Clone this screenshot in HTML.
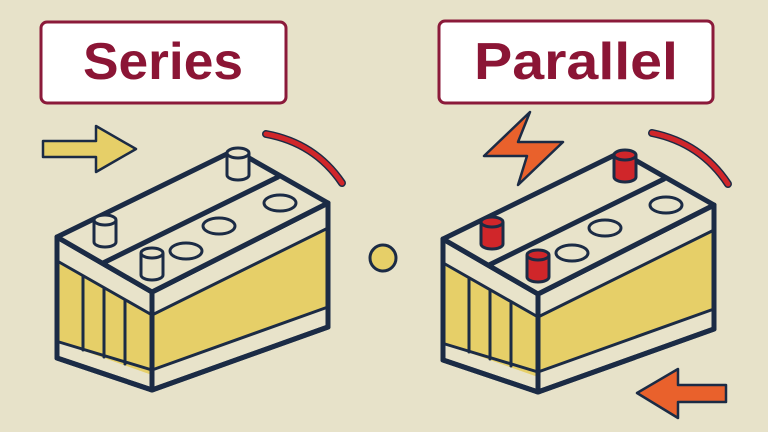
<!DOCTYPE html>
<html><head><meta charset="utf-8"><style>
html,body{margin:0;padding:0;background:#e7e2c9;}
svg{display:block}
</style></head><body>
<svg width="768" height="432" viewBox="0 0 768 432" xmlns="http://www.w3.org/2000/svg">
<defs>
<g id="bat" stroke="#1b2b45" stroke-width="5" stroke-linejoin="round" stroke-linecap="round">
  <!-- left face -->
  <polygon points="57,237 152,292 152,390 57,358" fill="#e8e3ca"/>
  <polygon points="59,262 152,315 152,375 59,342" fill="#e6cf68" stroke="none"/>
  <!-- right face -->
  <polygon points="152,292 328,203 328,327 152,390" fill="#e8e3ca"/>
  <polygon points="152,315 328,228 328,307 152,370" fill="#e6cf68" stroke="none"/>
  <polyline points="59,262 152,315 328,228" fill="none" stroke-width="3"/>
  <polyline points="59,342 152,370 328,307" fill="none" stroke-width="3"/>
  <line x1="83" y1="276" x2="83" y2="350" stroke-width="3"/>
  <line x1="104" y1="288" x2="104" y2="357" stroke-width="3"/>
  <line x1="125" y1="300" x2="125" y2="364" stroke-width="3"/>
  <polygon points="57,237 152,292 152,390 57,358" fill="none"/>
  <polygon points="152,292 328,203 328,327 152,390" fill="none"/>
  <!-- top face -->
  <polygon points="57,237 152,292 328,203 235,150" fill="#e8e3ca"/>
  <line x1="103" y1="263" x2="278" y2="177"/>
  <ellipse cx="186" cy="251" rx="16" ry="8" fill="none" stroke-width="3"/>
  <ellipse cx="219" cy="226" rx="16" ry="8" fill="none" stroke-width="3"/>
  <ellipse cx="280" cy="203" rx="16" ry="8" fill="none" stroke-width="3"/>
</g>
<g id="term" stroke="#1b2b45" stroke-width="3">
  <path d="M-11,0 v22 a11,5 0 0 0 22,0 v-22" />
  <ellipse cx="0" cy="0" rx="11" ry="5"/>
</g>
</defs>

<!-- Titles -->
<rect x="41" y="22" width="245" height="81" rx="6" fill="#fff" stroke="#8b1a3a" stroke-width="3"/>
<text x="163" y="79" text-anchor="middle" font-family="Liberation Sans, sans-serif" font-weight="bold" font-size="52" fill="#8b1535" textLength="160" lengthAdjust="spacingAndGlyphs">Series</text>
<rect x="439" y="21" width="274" height="82" rx="6" fill="#fff" stroke="#8b1a3a" stroke-width="3"/>
<text x="576" y="79" text-anchor="middle" font-family="Liberation Sans, sans-serif" font-weight="bold" font-size="52" fill="#8b1535" textLength="204" lengthAdjust="spacingAndGlyphs">Parallel</text>

<!-- yellow arrow -->
<polygon points="43,141 96,141 96,126 136,149 96,172 96,157 43,157" fill="#e6cf68" stroke="#1b2b45" stroke-width="2.5" stroke-linejoin="round"/>
<!-- red arcs -->
<path d="M266,134 Q315,143 342,183" fill="none" stroke="#1b2b45" stroke-width="8" stroke-linecap="round"/>
<path d="M266,134 Q315,143 342,183" fill="none" stroke="#d0262a" stroke-width="5" stroke-linecap="round"/>
<path d="M652,133 Q701,143 728,184" fill="none" stroke="#1b2b45" stroke-width="8" stroke-linecap="round"/>
<path d="M652,133 Q701,143 728,184" fill="none" stroke="#d0262a" stroke-width="5" stroke-linecap="round"/>
<!-- bolt -->
<polygon points="530,112 484,156 527,156 518,185 563,142 518,142" fill="#e9612c" stroke="#1b2b45" stroke-width="2.5" stroke-linejoin="round"/>
<!-- orange arrow -->
<polygon points="637,393 678,369 678,385 726,385 726,402 678,402 678,418" fill="#e9612c" stroke="#1b2b45" stroke-width="2.5" stroke-linejoin="round"/>
<!-- dot -->
<circle cx="383" cy="258" r="13" fill="#e6cf68" stroke="#1b2b45" stroke-width="3"/>

<!-- left battery -->
<use href="#bat"/>
<use href="#term" x="238" y="153" fill="#e8e3ca"/>
<use href="#term" x="105" y="220" fill="#e8e3ca"/>
<use href="#term" x="152" y="253" fill="#e8e3ca"/>
<!-- right battery -->
<use href="#bat" x="386" y="2"/>
<use href="#term" x="625" y="155" fill="#d0262a"/>
<use href="#term" x="492" y="222" fill="#d0262a"/>
<use href="#term" x="538" y="255" fill="#d0262a"/>
</svg>
</body></html>
